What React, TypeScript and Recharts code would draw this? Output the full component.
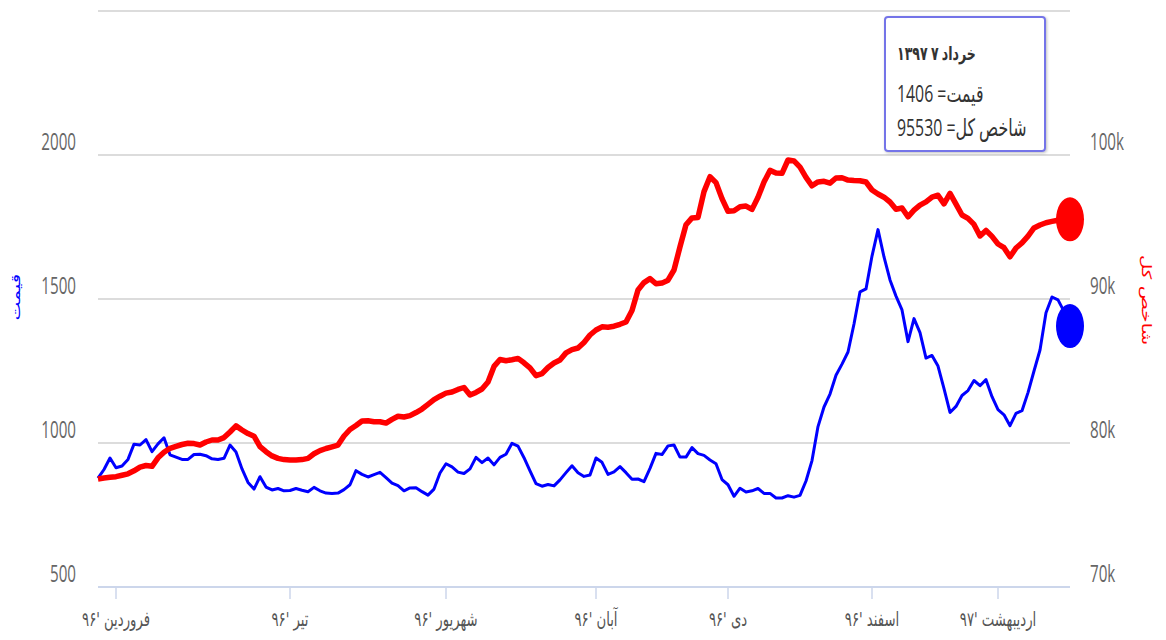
import React from "react";
import { LineChart, Line, XAxis, YAxis, CartesianGrid } from "recharts";

// daily values
const priceValues = [
  878, 908, 948, 914, 920, 943, 996, 993, 1012, 970,
  997, 1018, 959, 951, 943, 943, 960, 961, 956, 945,
  943, 947, 993, 969, 910, 863, 840, 883, 847, 837,
  842, 834, 835, 842, 836, 831, 846, 834, 826, 825,
  826, 838, 855, 904, 891, 882, 890, 898, 880, 861,
  852, 834, 844, 845, 831, 819, 840, 896, 928, 917,
  899, 894, 910, 950, 932, 948, 924, 950, 961, 999,
  989, 949, 903, 859, 850, 856, 851, 872, 897, 921,
  897, 884, 889, 948, 933, 891, 900, 918, 897, 874,
  875, 866, 912, 964, 960, 990, 993, 951, 951, 984,
  963, 957, 941, 928, 873, 855, 815, 843, 830, 834,
  842, 825, 825, 809, 809, 817, 812, 818, 868, 939,
  1057, 1125, 1170, 1235, 1274, 1316, 1413, 1525, 1535, 1649,
  1741, 1646, 1566, 1510, 1462, 1352, 1432, 1383, 1295, 1304,
  1267, 1189, 1106, 1127, 1165, 1182, 1217, 1199, 1220, 1161,
  1116, 1098, 1060, 1103, 1112, 1175, 1250, 1323, 1452, 1507,
  1497, 1457, 1406,
];

const indexValues = [
  77500, 77569, 77618, 77660, 77757, 77861, 78069, 78326, 78437, 78382,
  78972, 79354, 79632, 79771, 79896, 79986, 79958, 79861, 80069, 80208,
  80208, 80375, 80764, 81188, 80903, 80653, 80472, 79743, 79396, 79104,
  78931, 78847, 78819, 78819, 78847, 78931, 79250, 79472, 79618, 79736,
  79854, 80486, 80938, 81215, 81528, 81542, 81479, 81479, 81382, 81639,
  81861, 81806, 81903, 82118, 82361, 82681, 83014, 83250, 83465, 83542,
  83722, 83854, 83333, 83514, 83750, 84236, 85319, 85799, 85715, 85785,
  85875, 85569, 85222, 84674, 84813, 85243, 85556, 85764, 86257, 86486,
  86597, 86986, 87500, 87847, 88069, 88042, 88111, 88243, 88403, 89201,
  90625, 91139, 91417, 91056, 91104, 91306, 92014, 93625, 95153, 95632,
  95667, 97458, 98493, 98083, 96972, 96090, 96132, 96410, 96451, 96222,
  97063, 98125, 98931, 98750, 98729, 99653, 99590, 99160, 98444, 97861,
  98132, 98174, 98042, 98403, 98417, 98257, 98222, 98215, 98125, 97569,
  97292, 97069, 96736, 96229, 96319, 95708, 96167, 96521, 96743, 97076,
  97208, 96611, 97340, 96590, 95833, 95597, 95181, 94375, 94764, 94347,
  93819, 93563, 92931, 93542, 93896, 94361, 94931, 95139, 95299, 95389,
  95472, 95535, 95530,
];

const monthTicks = [3, 32, 58, 83, 105, 129, 150];
const monthLabels = [
  "فروردین '۹۶",
  "تیر '۹۶",
  "شهریور '۹۶",
  "آبان '۹۶",
  "دی '۹۶",
  "اسفند '۹۶",
  "اردیبهشت '۹۷",
];
const priceTicks = [500, 1000, 1500, 2000, 2500];
const indexTicks = [70000, 80000, 90000, 100000, 110000];
const lastDate = "خرداد ۷ ۱۳۹۷";

const data = priceValues.map((p, i) => ({ i, price: p, index: indexValues[i] }));
const last = data.length - 1;

const SQ = 0.66; // the reference is squeezed horizontally
const numFont = "'Open Sans', 'DejaVu Sans', sans-serif";
const faFont = "'DejaVu Sans', sans-serif";

const PriceTick = (props: any) => {
  const { x, y, payload } = props;
  if (payload.value > 2000) return <g />;
  return (
    <g transform={`translate(${x},${y - 5}) scale(${SQ},1)`}>
      <text textAnchor="end" fill="#666" fontSize={23} fontFamily={numFont}>
        {payload.value}
      </text>
    </g>
  );
};

const IndexTick = (props: any) => {
  const { x, y, payload } = props;
  if (payload.value > 100000) return <g />;
  return (
    <g transform={`translate(${x},${y - 5}) scale(${SQ},1)`}>
      <text textAnchor="start" fill="#666" fontSize={23} fontFamily={numFont}>
        {payload.value / 1000 + "k"}
      </text>
    </g>
  );
};

const MonthTick = (props: any) => {
  const { x, y, payload } = props;
  const label = monthLabels[monthTicks.indexOf(payload.value)];
  return (
    <g transform={`translate(${x},${y + 25}) scale(${SQ},1)`}>
      <text textAnchor="middle" fill="#555" fontSize={20} fontFamily={faFont}>
        {label}
      </text>
    </g>
  );
};

const endDot = (color: string) => (props: any) => {
  const { cx, cy, index } = props;
  if (index !== last) return <g key={"d" + index} />;
  return <ellipse key={"d" + index} cx={cx} cy={cy} rx={14} ry={22} fill={color} />;
};

export default function App() {
  return (
    <div style={{ position: "relative", width: 1166, height: 640, background: "#fff" }}>
      <style>{`body{margin:0}`}</style>
      <LineChart width={1166} height={640} data={data} margin={{ top: 11, right: 0, bottom: 0, left: 0 }}>
        <CartesianGrid yAxisId="left" vertical={false} stroke="#dcdcdc" strokeWidth={2} />
        <XAxis
          type="number"
          dataKey="i"
          domain={[0, last]}
          ticks={monthTicks}
          interval={0}
          height={53}
          tickSize={12}
          tickLine={{ stroke: "#ccd6eb", strokeWidth: 1.5 }}
          axisLine={{ stroke: "#ccd6eb", strokeWidth: 2 }}
          tick={<MonthTick />}
        />
        <YAxis
          yAxisId="left"
          orientation="left"
          width={98}
          domain={[500, 2500]}
          ticks={priceTicks}
          interval={0}
          axisLine={false}
          tickLine={false}
          tickSize={0}
          tickMargin={22}
          tick={<PriceTick />}
        />
        <YAxis
          yAxisId="right"
          orientation="right"
          width={96}
          domain={[70000, 110000]}
          ticks={indexTicks}
          interval={0}
          axisLine={false}
          tickLine={false}
          tickSize={0}
          tickMargin={20}
          tick={<IndexTick />}
        />
        <Line
          yAxisId="left"
          type="linear"
          dataKey="price"
          stroke="#0000ff"
          strokeWidth={3}
          strokeLinejoin="round"
          dot={endDot("#0000ff")}
          activeDot={false}
          isAnimationActive={false}
        />
        <Line
          yAxisId="right"
          type="linear"
          dataKey="index"
          stroke="#ff0000"
          strokeWidth={5.5}
          strokeLinejoin="round"
          dot={endDot("#ff0000")}
          activeDot={false}
          isAnimationActive={false}
        />
      </LineChart>

      <div
        style={{
          position: "absolute",
          left: 15,
          top: 297,
          transform: `translate(-50%,-50%) scale(${SQ},1) rotate(-90deg)`,
          color: "#0000ff",
          fontFamily: faFont,
          fontSize: 20,
          whiteSpace: "nowrap",
          lineHeight: 1,
        }}
      >
        قیمت
      </div>
      <div
        style={{
          position: "absolute",
          left: 1147,
          top: 300,
          transform: `translate(-50%,-50%) scale(${SQ},1) rotate(90deg)`,
          color: "#ff0000",
          fontFamily: faFont,
          fontSize: 20,
          whiteSpace: "nowrap",
          lineHeight: 1,
        }}
      >
        شاخص کل
      </div>

      <div
        style={{
          position: "absolute",
          left: 884,
          top: 16,
          width: 162,
          height: 136,
          boxSizing: "border-box",
          border: "2px solid #7474e8",
          borderRadius: 4,
          background: "rgba(255,255,255,0.92)",
          boxShadow: "1px 1px 3px rgba(0,0,0,0.25)",
          color: "#333",
        }}
      >
        {[
          { text: lastDate, top: 24, size: 19, bold: true },
          { text: "قیمت= " + priceValues[last], top: 61, size: 24, bold: false },
          { text: "شاخص کل= " + indexValues[last], top: 95, size: 24, bold: false },
        ].map((l) => (
          <div
            key={l.top}
            style={{
              position: "absolute",
              left: 11,
              top: l.top,
              transform: `scale(${SQ},1)`,
              transformOrigin: "left top",
              direction: "rtl",
              whiteSpace: "nowrap",
              fontFamily: numFont,
              fontSize: l.size,
              fontWeight: l.bold ? 700 : 400,
              lineHeight: 1.2,
            }}
          >
            {l.text}
          </div>
        ))}
      </div>
    </div>
  );
}
